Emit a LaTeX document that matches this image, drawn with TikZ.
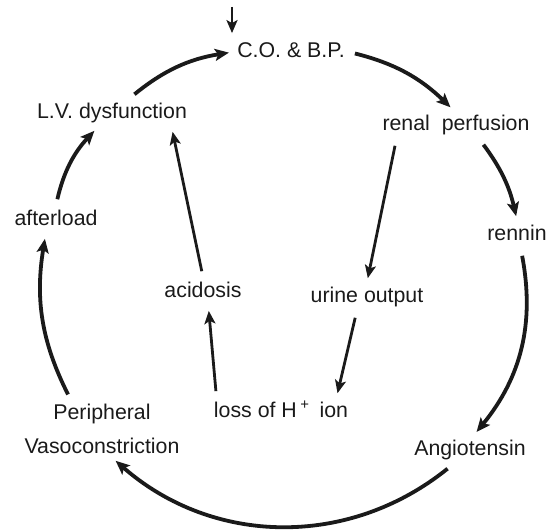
\documentclass[tikz,border=0pt]{standalone}
\usepackage{fontspec}
\setmainfont{Liberation Sans}
\usepackage{tikz}
\usetikzlibrary{arrows.meta}
\definecolor{ink}{HTML}{1A1A1A}
\tikzset{
  txt/.style={inner sep=2bp,text=ink,font=\fontsize{10.7}{17}\selectfont},
  term/.style={txt,text height=8bp,text depth=2.5bp},
  cycarrow/.style={ink,line width=1.9bp,-{Stealth[length=7bp,width=6bp,inset=1.5bp]},shorten >=2bp,shorten <=3bp,bend left=#1},
  sidearrow/.style={ink,line width=1.4bp,-{Stealth[length=6.5bp,width=5.5bp,inset=1.5bp]},shorten >=2bp,shorten <=3bp}
}

\begin{document}
\begin{tikzpicture}[x=0.5bp,y=-0.5bp]
        \useasboundingbox (0,0) rectangle (559,532);
        \node[term] (co) at (291,52) {C.O. \& B.P.};
        \node[term] (lv) at (112,113) {L.V. dysfunction};
        \node[term] (rp) at (456,125) {renal\ \ perfusion};
        \node[term] (rennin) at (517,235) {rennin};
        \node[term] (angio) at (470,450) {Angiotensin};
        \node[txt,align=center] (pv) at (102,429) {Peripheral\\Vasoconstriction};
        \node[term] (after) at (56,220) {afterload};
        \node[term] (acid) at (203,292) {acidosis};
        \node[term] (urine) at (367,297) {urine output};
        \node[term] (loss) at (281,412) {loss of H\,\textsuperscript{+}\ \,ion};
        \coordinate (entry) at (232,7);
        \draw[sidearrow,shorten <=0bp] (entry) -- (entry |- co.north);
        \draw[cycarrow=15] (lv.40) to (co.west);
        \draw[cycarrow=15] (co.east) to (rp.100);
        \draw[cycarrow=12] (rp.-32) to (rennin.north);
        \draw[cycarrow=25] (rennin.-75) to (angio.75);
        \draw[cycarrow=40] (angio.-140) to (pv.-70);
        \draw[cycarrow=18] (pv.137) to (after.-125);
        \draw[cycarrow=15] (after.north) to (lv.-135);
        \draw[sidearrow] (rp.-166) -- (urine.north);
        \draw[sidearrow] (urine.-125) -- (loss.15);
        \draw[sidearrow] (loss.167) -- (acid.-70);
        \draw[sidearrow] (acid.north) -- (lv.-14);
      \end{tikzpicture}
\end{document}
